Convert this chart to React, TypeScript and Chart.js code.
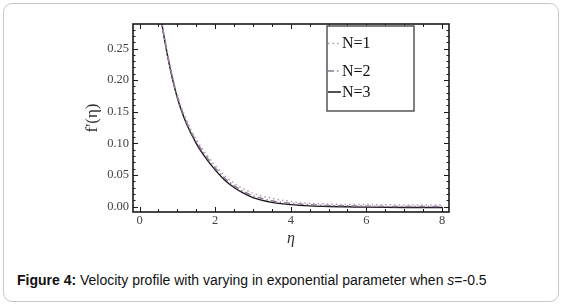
import React, { useEffect, useRef } from "react";
import { Chart, registerables } from "chart.js";

Chart.register(...registerables);

const etaValues = [0, 0.25, 0.5, 0.75, 1.0, 1.25, 1.5, 1.75, 2.0, 2.25, 2.5, 2.75, 3.0, 3.5, 4.0, 4.5, 5.0, 5.5, 6.0, 7.0, 8.0];
const seriesN1 = [0.62, 0.452, 0.328, 0.24, 0.177, 0.136, 0.106, 0.084, 0.065, 0.049, 0.037, 0.028, 0.021, 0.013, 0.008, 0.005, 0.004, 0.003, 0.003, 0.0025, 0.0025];
const seriesN2 = [0.62, 0.451, 0.326, 0.238, 0.174, 0.133, 0.103, 0.08, 0.061, 0.045, 0.033, 0.024, 0.017, 0.009, 0.005, 0.003, 0.0015, 0.001, 0.0005, 0.0, 0.0];
const seriesN3 = [0.62, 0.45, 0.325, 0.236, 0.172, 0.13, 0.1, 0.077, 0.058, 0.042, 0.03, 0.021, 0.014, 0.0065, 0.003, 0.001, 0.0, -0.0005, -0.001, -0.0015, -0.0015];
const seriesLabels = ["N=1", "N=2", "N=3"];
const xMajorTicks = [0, 2, 4, 6, 8];
const yMajorTicks = [0, 0.05, 0.1, 0.15, 0.2, 0.25];
const xMinorStep = 0.5;
const yMinorStep = 0.01;

const colors = ["#b898b8", "#8c7896", "#1a1a1a"];
const dashes: number[][] = [[1.5, 3], [6, 3, 1.5, 3], []];

const framePlugin = {
  id: "framePlugin",
  afterDraw(chart: any) {
    const { ctx, chartArea } = chart;
    const { left, right, top, bottom } = chartArea;
    const xs = chart.scales.x;
    const ys = chart.scales.y;
    ctx.save();
    ctx.strokeStyle = "#1a1a1a";
    ctx.lineWidth = 1;
    const drawX = (v: number, len: number) => {
      const px = Math.round(xs.getPixelForValue(v)) + 0.5;
      ctx.beginPath();
      ctx.moveTo(px, bottom);
      ctx.lineTo(px, bottom - len);
      ctx.moveTo(px, top);
      ctx.lineTo(px, top + len);
      ctx.stroke();
    };
    const drawY = (v: number, len: number) => {
      const py = Math.round(ys.getPixelForValue(v)) + 0.5;
      ctx.beginPath();
      ctx.moveTo(left, py);
      ctx.lineTo(left + len, py);
      ctx.moveTo(right, py);
      ctx.lineTo(right - len, py);
      ctx.stroke();
    };
    for (let i = 0; ; i++) {
      const v = i * xMinorStep;
      if (v > xs.max) break;
      const isMajor = xMajorTicks.some((t) => Math.abs(t - v) < 1e-6);
      drawX(v, isMajor ? 5 : 3);
    }
    for (let i = 0; ; i++) {
      const v = i * yMinorStep;
      if (v > ys.max) break;
      const isMajor = yMajorTicks.some((t) => Math.abs(t - v) < 1e-6);
      drawY(v, isMajor ? 5 : 2.5);
    }
    ctx.lineWidth = 1.6;
    ctx.strokeRect(left, top, right - left, bottom - top);

    // legend
    const bx = 327, by = 26, bw = 87, bh = 85;
    ctx.fillStyle = "#ffffff";
    ctx.fillRect(bx, by, bw, bh);
    ctx.strokeStyle = "#555555";
    ctx.lineWidth = 1.5;
    ctx.strokeRect(bx, by, bw, bh);
    const rowY = [43.5, 71, 92];
    ctx.font = "16px 'Liberation Serif', serif";
    ctx.textBaseline = "middle";
    ctx.textAlign = "left";
    seriesLabels.forEach((lab, i) => {
      ctx.strokeStyle = colors[i];
      ctx.lineWidth = 1.5;
      ctx.setLineDash(dashes[i]);
      ctx.beginPath();
      ctx.moveTo(bx + 1, rowY[i]);
      ctx.lineTo(bx + 14, rowY[i]);
      ctx.stroke();
      ctx.setLineDash([]);
      ctx.fillStyle = "#111111";
      ctx.fillText(lab, bx + 15, rowY[i] + 0.5);
    });
    ctx.restore();
  },
};

export default function App() {
  const canvasRef = useRef<HTMLCanvasElement | null>(null);

  useEffect(() => {
    if (!canvasRef.current) return;
    const mk = (data: number[]) => etaValues.map((x, i) => ({ x, y: data[i] }));
    const allSeries = [seriesN1, seriesN2, seriesN3];
    const chart = new Chart(canvasRef.current, {
      type: "line",
      data: {
        datasets: allSeries.map((s, i) => ({
          label: seriesLabels[i],
          data: mk(s),
          borderColor: colors[i],
          borderWidth: i === 2 ? 1.4 : 1.5,
          borderDash: dashes[i],
          pointRadius: 0,
          fill: false,
          cubicInterpolationMode: "monotone" as const,
        })),
      },
      options: {
        animation: false,
        responsive: false,
        devicePixelRatio: 1,
        layout: { padding: { left: 0, top: 24, right: 115, bottom: 0 } },
        plugins: { legend: { display: false }, tooltip: { enabled: false } },
        scales: {
          x: {
            type: "linear",
            min: -0.172,
            max: 8.185,
            grid: { display: false, drawTicks: false },
            border: { display: false },
            afterBuildTicks: (scale: any) => {
              scale.ticks = xMajorTicks.map((v) => ({ value: v }));
            },
            afterFit: (scale: any) => {
              scale.height = 38;
            },
            ticks: {
              padding: 1,
              color: "#444444",
              font: { family: "'Liberation Serif', serif", size: 12.5 },
              callback: (v: any) => String(v),
            },
            title: {
              display: true,
              text: "η",
              color: "#333333",
              font: { family: "'Liberation Serif', serif", size: 16, style: "italic" },
              padding: { top: 0, bottom: 2 },
            },
          },
          y: {
            type: "linear",
            min: -0.0087,
            max: 0.2888,
            grid: { display: false, drawTicks: false },
            border: { display: false },
            afterBuildTicks: (scale: any) => {
              scale.ticks = yMajorTicks.map((v) => ({ value: v }));
            },
            afterFit: (scale: any) => {
              scale.width = 133;
            },
            ticks: {
              padding: 4,
              color: "#444444",
              font: { family: "'Liberation Serif', serif", size: 12.5 },
              callback: (v: any) => Number(v).toFixed(2),
            },
            title: {
              display: true,
              text: "f'(η)",
              color: "#333333",
              font: { family: "'Liberation Serif', serif", size: 17 },
              padding: { top: 82, bottom: 0 },
            },
          },
        },
      },
      plugins: [framePlugin],
    } as any);
    return () => chart.destroy();
  }, []);

  return (
    <div style={{ position: "fixed", left: 0, top: 0, width: 564, height: 306, background: "#fff" }}>
      <div
        style={{
          position: "absolute",
          left: 3,
          top: 3,
          width: 556,
          height: 299,
          boxSizing: "border-box",
          border: "1.5px solid #c8c8c8",
          borderRadius: 9,
        }}
      />
      <canvas
        ref={canvasRef}
        width={564}
        height={250}
        style={{ position: "absolute", left: 0, top: 0, width: 564, height: 250 }}
      />
      <div
        style={{
          position: "absolute",
          left: 17,
          top: 272,
          fontFamily: "'Liberation Sans', Arial, sans-serif",
          fontSize: 14,
          lineHeight: "16px",
          color: "#111",
          whiteSpace: "nowrap",
        }}
      >
        <b>Figure 4:</b> Velocity profile with varying in exponential parameter when <i>s</i>=-0.5
      </div>
    </div>
  );
}
